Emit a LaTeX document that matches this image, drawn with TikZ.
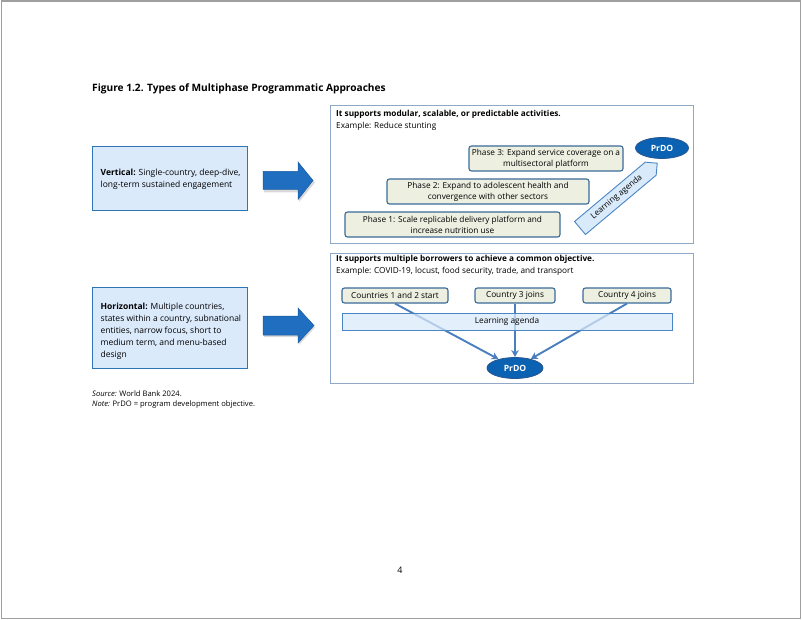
\documentclass[tikz,border=0pt]{standalone}
\usepackage{fontspec}
\setmainfont{Open Sans}
\usetikzlibrary{shapes.geometric,arrows.meta}
\definecolor{lbfill}{HTML}{DAEAFB}
\definecolor{lbdraw}{HTML}{2E75B6}
\definecolor{bigarrow}{HTML}{1F6EC0}
\definecolor{bigarrowd}{HTML}{1A5A9E}
\definecolor{frameb}{HTML}{8FA8C8}
\definecolor{phfill}{HTML}{EDEFE1}
\definecolor{phdraw}{HTML}{3A6B9A}
\definecolor{prdofill}{HTML}{0B62B2}
\definecolor{prdodraw}{HTML}{2A5590}
\definecolor{lafill}{HTML}{D9EAFA}
\definecolor{ladraw}{HTML}{4A86C5}
\definecolor{conn}{HTML}{4A7EBF}
\tikzset{
  leftbox/.style={draw=lbdraw, fill=lbfill, line width=1pt},
  txt/.style={inner sep=0pt, font=\fontsize{8.5}{12}\selectfont, align=left},
  rtxt/.style={inner sep=0pt, font=\fontsize{8.25}{12}\selectfont, align=left},
  bigarr/.style={fill=bigarrow, draw=bigarrowd, line width=0.5pt},
  shadowarr/.style={fill=black, fill opacity=0.15, draw=none},
  rframe/.style={draw=frameb, line width=0.9pt, fill=white},
  phasebox/.style={draw=phdraw, fill=phfill, line width=1.1pt, rounded corners=2.5pt, inner sep=0pt, align=center, font=\fontsize{8.25}{10.8}\selectfont},
  prdo/.style={ellipse, draw=prdodraw, fill=prdofill, line width=0.8pt, inner sep=0pt, text=white, font=\fontsize{8.6}{10}\selectfont\bfseries},
  labox/.style={draw=ladraw, fill=lafill, line width=0.9pt},
  connector/.style={draw=conn, line width=1.9pt, -{Stealth[length=7pt,width=7.5pt]}},
}
\begin{document}
\begin{tikzpicture}[x=1pt,y=-1pt]
\useasboundingbox (0,0) rectangle (802,620);
\fill[white] (0,0) rectangle (802,620);
\draw[gray!75, line width=1.5pt] (1.5,0.8) rectangle (800.5,618.5);

% title
\node[anchor=west, inner sep=0pt, font=\fontsize{10.15}{13}\selectfont\bfseries] (title) at (92,89) {Figure 1.2. Types of Multiphase Programmatic Approaches};

% left boxes
\draw[leftbox] (92,147) rectangle (247,211);
\node[txt, anchor=west] (vtxt) at (100.5,179) {\textbf{Vertical:} Single-country, deep-dive,\\long-term sustained engagement};
\draw[leftbox] (92,287) rectangle (247,368);
\node[txt, anchor=west] (htxt) at (100.5,331) {\textbf{Horizontal:} Multiple countries,\\states within a country, subnational\\entities, narrow focus, short to\\medium term, and menu-based\\design};

% big arrows
\fill[shadowarr] (264,173.5) -- (299,173.5) -- (299,164) -- (315,182.5) -- (299,202) -- (299,192.5) -- (264,192.5) -- cycle;
\draw[bigarr] (263,171.5) -- (298,171.5) -- (298,162) -- (313,180.5) -- (298,199.5) -- (298,189.5) -- (263,189.5) -- cycle;
\fill[shadowarr] (264,318) -- (299,318) -- (299,310) -- (315,327.5) -- (299,345) -- (299,337) -- (264,337) -- cycle;
\draw[bigarr] (263,316) -- (298,316) -- (298,308) -- (314,325.5) -- (298,343) -- (298,335) -- (263,335) -- cycle;

% right frame 1
\draw[rframe] (330,105) rectangle (693,243);
\node[rtxt, anchor=west, font=\fontsize{8.25}{12}\selectfont\bfseries] (h1) at (336,114) {It supports modular, scalable, or predictable activities.};
\node[rtxt, anchor=west] (e1) at (336,126) {Example: Reduce stunting};

\node[phasebox, minimum width=154pt, minimum height=25pt] (p3) at (546,158.5) {Phase 3: Expand service coverage on a\\multisectoral platform};
\node[phasebox, minimum width=202pt, minimum height=25pt] (p2) at (488,191.5) {Phase 2: Expand to adolescent health and\\convergence with other sectors};
\node[phasebox, minimum width=215pt, minimum height=25pt] (p1) at (452.5,224.5) {Phase 1: Scale replicable delivery platform and\\increase nutrition use};

% learning agenda diagonal arrow
\begin{scope}[shift={(580,228)}, rotate=40]
  \draw[labox] (0,-8.5) -- (92.3,-8.5) -- (100.8,0) -- (92.3,8.5) -- (0,8.5) -- cycle;
  \node[rtxt, rotate=40] (la1) at (48,0) {Learning agenda};
\end{scope}

\node[prdo, minimum width=53pt, minimum height=21pt] (prdo1) at (662,148) {PrDO};

% right frame 2
\draw[rframe] (330,253) rectangle (693,383);
\node[rtxt, anchor=west, font=\fontsize{8.25}{12}\selectfont\bfseries] (h2) at (336,259.5) {It supports multiple borrowers to achieve a common objective.};
\node[rtxt, anchor=west] (e2) at (336,271.5) {Example: COVID-19, locust, food security, trade, and transport};

\node[phasebox, minimum width=106pt, minimum height=15pt] (c1) at (395,295.5) {Countries 1 and 2 start};
\node[phasebox, minimum width=80pt, minimum height=15pt] (c3) at (515,295.5) {Country 3 joins};
\node[phasebox, minimum width=88pt, minimum height=15pt] (c4) at (627,295.5) {Country 4 joins};

\node[prdo, minimum width=56pt, minimum height=21pt] (prdo2) at (515,368) {PrDO};

\draw[connector] (c1.south) -- (prdo2);
\draw[connector] (c3.south) -- (prdo2.north);
\draw[connector] (c4.south) -- (prdo2);

\node[draw=ladraw, fill=lafill, fill opacity=0.72, text opacity=1, line width=0.9pt, minimum width=330pt, minimum height=17pt, inner sep=0pt, font=\fontsize{8.25}{12}\selectfont] (la2) at (507,321.5) {Learning agenda};

% notes
\node[txt, anchor=west, font=\fontsize{7.6}{11}\selectfont] (src) at (92,394) {\textit{Source:} World Bank 2024.};
\node[txt, anchor=west, font=\fontsize{7.6}{11}\selectfont] (note) at (92,405) {\textit{Note:} PrDO = program development objective.};

\node[txt, font=\fontsize{9}{11}\selectfont] (pg) at (400,570) {4};
\end{tikzpicture}
\end{document}
